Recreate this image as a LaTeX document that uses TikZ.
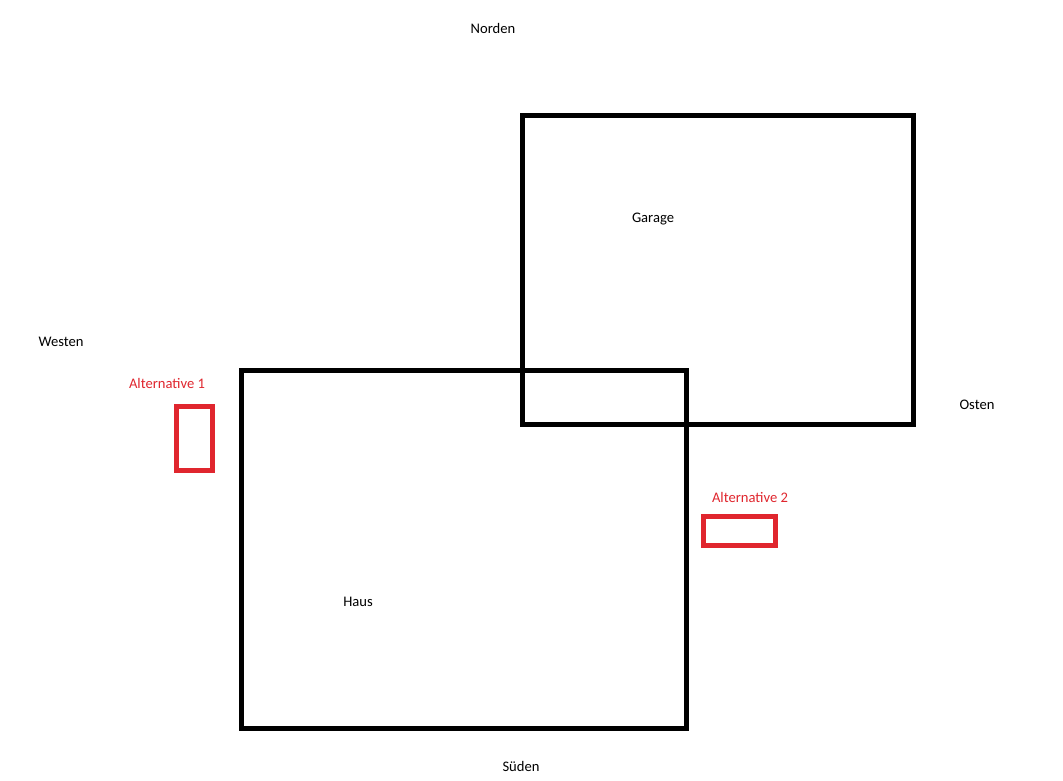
\documentclass[tikz,border=0pt]{standalone}
\usepackage{fontspec}
\setmainfont{Carlito}
\definecolor{pred}{HTML}{E0262E}
\begin{document}
\begin{tikzpicture}[x=1pt,y=-1pt,
  lbl/.style={inner sep=0pt,font=\fontsize{14.6}{17}\selectfont},
  redlbl/.style={lbl,text=pred},
  bldg/.style={draw=black,line width=5pt},
  alt/.style={draw=pred,line width=5pt}]
\useasboundingbox[fill=white] (0,0) rectangle (1063,780);
\draw[bldg] (522.5,115.5) rectangle (913.5,424.5);
\draw[bldg] (241,370) rectangle (686,728);
\draw[alt] (176.5,406.5) rectangle (212,470.5);
\draw[alt] (703,516.5) rectangle (775,545.5);
\node[lbl] (norden) at (493,28) {Norden};
\node[lbl] (garage) at (653,219) {Garage};
\node[lbl] (westen) at (61,342) {Westen};
\node[lbl] (osten) at (977,405) {Osten};
\node[lbl] (haus) at (358,602) {Haus};
\node[lbl] (sueden) at (521,766) {Süden};
\node[redlbl] (alt1) at (167,383) {Alternative 1};
\node[redlbl] (alt2) at (750,497) {Alternative 2};
\end{tikzpicture}
\end{document}
